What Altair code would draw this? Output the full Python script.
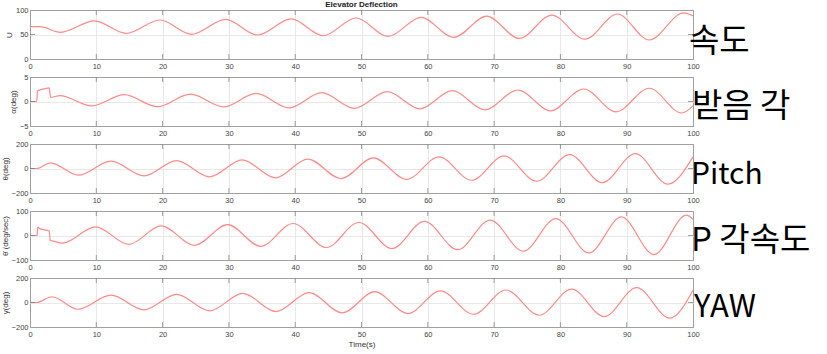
import altair as alt
import pandas as pd

# ---------------- data ----------------
TIME_TICKS = [0, 10, 20, 30, 40, 50, 60, 70, 80, 90, 100]

u_t = [0, 1.5, 4.6, 9.7, 14.5, 19.6, 24.4, 29.5, 34.3, 39.4, 44.2, 49.2, 54.0, 59.0, 63.9, 68.9, 73.8, 78.7, 83.7, 88.6, 93.4, 98.6, 100]
u_v = [66, 66, 54.5, 78, 52.4, 79.6, 50.4, 81, 49, 82, 47.5, 83.7, 46, 85, 44, 87.5, 42, 89.5, 40.5, 91.8, 38.8, 94, 88]

a_t = [0, 1.0, 1.15, 1.5, 2.9, 3.1, 4.5, 9.3, 14.2, 19.2, 24.2, 29.2, 34.1, 39.1, 44.0, 48.9, 53.9, 58.8, 63.7, 68.6, 73.6, 78.5, 83.5, 88.4, 93.4, 98.3, 100]
a_v = [0, 0, 2.2, 2.35, 2.8, 0.85, 1.2, -0.9, 1.4, -1.05, 1.5, -1.1, 1.65, -1.3, 1.8, -1.4, 2.0, -1.5, 2.2, -1.7, 2.35, -1.9, 2.55, -2.1, 2.7, -2.35, -0.9]

th_t = [0, 1.0, 3.1, 7.3, 12.2, 17.2, 22.1, 27.1, 32.0, 37.0, 41.9, 46.9, 51.8, 56.8, 61.7, 66.6, 71.5, 76.4, 81.4, 86.3, 91.3, 96.2, 100]
th_v = [0, 0, 46, -54, 60, -60, 65, -68, 71, -76, 77, -82, 87, -89, 95, -96, 103, -104, 113, -115, 122, -128, 95]

q_t = [0, 1.1, 1.15, 1.5, 2.9, 3.05, 3.5, 4.9, 9.9, 14.9, 19.8, 24.8, 29.8, 34.8, 39.7, 44.7, 49.6, 54.6, 59.5, 64.5, 69.4, 74.4, 79.3, 84.3, 89.2, 94.1, 99.0, 100]
q_v = [0, 0, 34, 28, 18, -20, -23, -31, 35, -36, 39, -40, 44, -44, 49, -49, 53, -53, 58, -58, 63, -64, 69, -71, 76, -78, 83, 66]

g_t = [0, 1.0, 3.3, 7.2, 12.2, 17.2, 22.1, 27.1, 32.1, 37.1, 42.1, 47.1, 52.0, 57.0, 61.9, 66.9, 71.8, 76.8, 81.7, 86.6, 91.5, 96.5, 100]
g_v = [0, 0, 47, -55, 60, -60, 67, -68, 74, -74, 81, -84, 88, -90, 95, -96, 102, -104, 110, -115, 122, -128, 100]

y_titles = ["U", "α(deg)", "θ(deg)", "θ̇ (deg/sec)", "γ(deg)"]
y_domains = [[0, 100], [-5, 5], [-200, 200], [-100, 100], [-200, 200]]
y_ticks = [[0, 50, 100], [-5, 0, 5], [-200, 0, 200], [-100, 0, 100], [-200, 0, 200]]
side_labels = ["속도", "받음 각", "Pitch", "P 각속도", "YAW"]
series_t = [u_t, a_t, th_t, q_t, g_t]
series_v = [u_v, a_v, th_v, q_v, g_v]

# ---------------- layout / style ----------------
W, H = 663, 49
LINE_COLOR = "#ff8a8a"
FRAME = "#a0a0a0"
GRID = "#e8e8e8"
label_dy = [32, 30, 31, 30, 30]
label_dx = [659, 662, 661, 661, 664]
label_fs = [33, 33, 30, 33, 31]


def panel(i):
    last = i == 4
    df = pd.DataFrame({"t": series_t[i], "v": series_v[i]})
    lo, hi = y_domains[i]
    xscale = alt.Scale(domain=[0, 100], nice=False, zero=False)
    yscale = alt.Scale(domain=y_domains[i], nice=False, zero=False)
    xaxis = alt.Axis(values=TIME_TICKS, title="Time(s)" if last else None,
                     grid=True, format="d", labelFlush=False,
                     gridColor={"condition": {"test": "datum.value <= 0 || datum.value >= 100",
                                              "value": FRAME}, "value": GRID})
    yaxis = alt.Axis(values=y_ticks[i], title=y_titles[i], grid=True, format="d",
                     gridColor={"condition": {"test": f"datum.value <= {lo} || datum.value >= {hi}",
                                              "value": FRAME}, "value": GRID})
    X = alt.X("t:Q", scale=xscale, axis=xaxis)
    Y = alt.Y("v:Q", scale=yscale, axis=yaxis)
    line = alt.Chart(df).mark_line(color=LINE_COLOR, strokeWidth=1.2,
                                   interpolate="monotone").encode(x=X, y=Y)
    tdf = pd.DataFrame({"t": TIME_TICKS[1:-1]})
    ttop = alt.Chart(tdf).mark_tick(orient="vertical", size=5, thickness=1,
                                    color="#777").encode(x=X, y=alt.value(2.5))
    tbot = alt.Chart(tdf).mark_tick(orient="vertical", size=5, thickness=1,
                                    color="#777").encode(x=X, y=alt.value(H - 2.5))
    ydf = pd.DataFrame({"v": y_ticks[i][1:-1]})
    yl = alt.Chart(ydf).mark_tick(orient="horizontal", size=5, thickness=1,
                                  color="#777").encode(y=Y, x=alt.value(2.5))
    yr = alt.Chart(ydf).mark_tick(orient="horizontal", size=5, thickness=1,
                                  color="#777").encode(y=Y, x=alt.value(W - 2.5))
    lbl = alt.Chart(pd.DataFrame({"label": [side_labels[i]]})).mark_text(
        align="left", baseline="middle", fontSize=label_fs[i],
        font="Noto Sans CJK KR", color="black").encode(
        x=alt.value(label_dx[i]), y=alt.value(label_dy[i]), text="label:N")
    props = dict(width=W, height=H)
    if i == 0:
        props["title"] = alt.TitleParams("Elevator Deflection", fontSize=8,
                                         fontWeight="bold", font="Liberation Sans",
                                         anchor="middle", frame="group", offset=-3,
                                         color="#222")
    return alt.layer(line, ttop, tbot, yl, yr, lbl).properties(**props)


chart = alt.vconcat(*[panel(i) for i in range(5)], spacing=2).properties(
    padding={"left": 0, "top": 0, "right": 0, "bottom": 0}
).configure_view(
    stroke=FRAME, strokeWidth=1
).configure_axis(
    domain=False, ticks=False, labelFontSize=7.5, labelColor="#444",
    labelFont="Liberation Sans", titleFont="Liberation Sans", titleFontSize=8,
    titleFontWeight="normal", titleColor="#333",
    gridWidth=1, labelPadding=3
).configure_axisY(titlePadding=2, labelPadding=2).configure_axisX(titlePadding=3)

chart.save("out.html", embed_options={"renderer": "svg", "actions": False})
